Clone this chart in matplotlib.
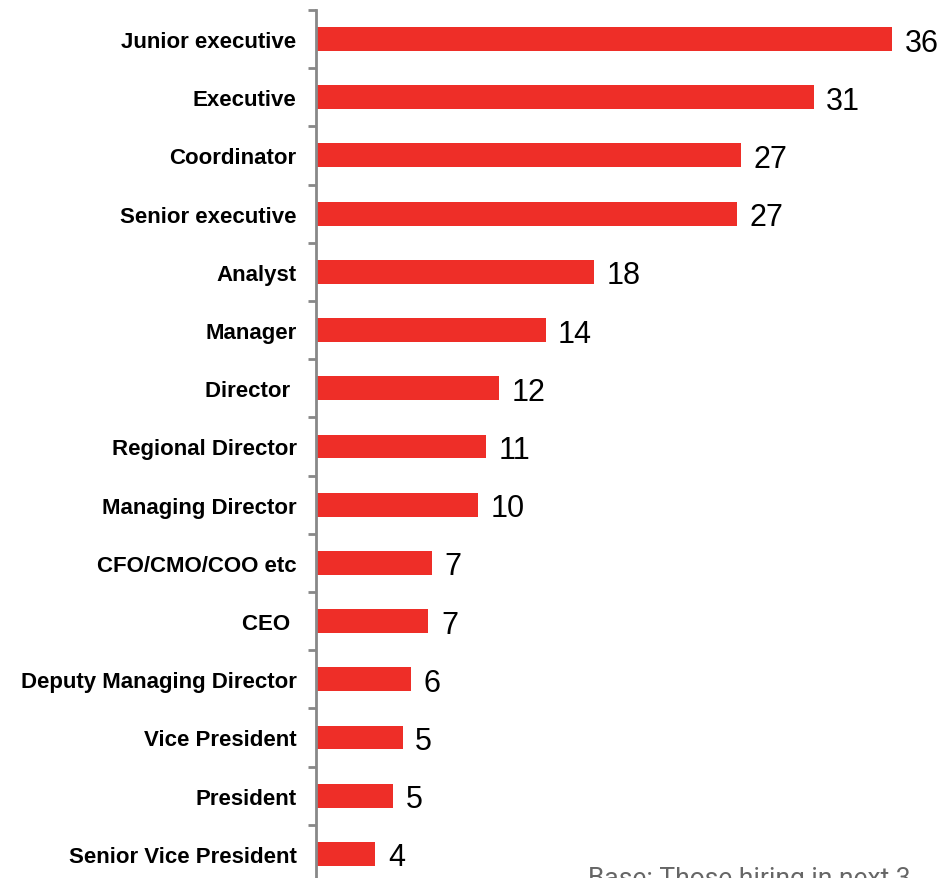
import matplotlib.pyplot as plt
import numpy as np

roles = ["Junior executive", "Executive", "Coordinator", "Senior executive",
         "Analyst", "Manager", "Director ", "Regional Director",
         "Managing Director", "CFO/CMO/COO etc", "CEO ", "Deputy Managing Director",
         "Vice President", "President", "Senior Vice President"]
# bar lengths as drawn, and the rounded figures printed next to them
values = [35.9, 31.0, 26.5, 26.2, 17.3, 14.3, 11.4, 10.6, 10.1, 7.2, 7.0, 5.9, 5.4, 4.8, 3.7]
shown = ["36", "31", "27", "27", "18", "14", "12", "11", "10", "7", "7", "6", "5", "5", "4"]

plt.rcParams["font.family"] = ["Liberation Sans", "DejaVu Sans"]

fig = plt.figure(figsize=(9.42, 8.79), dpi=100)
ax = fig.add_axes([0.3355, -0.0057, 0.6645, 0.9933])

y = np.arange(len(roles))
ax.barh(y, values, height=0.41, color="#ee2e28")
ax.set_ylim(len(roles) - 0.5, -0.5)
ax.set_xlim(0, 39)

for yi, v, s in zip(y, values, shown):
    ax.annotate(s, (v, yi), xytext=(9, 0), textcoords="offset points",
                va="center_baseline", ha="left", fontsize=22, color="black")

ax.set_yticks(y)
ax.set_yticklabels(roles, fontsize=16, fontweight="bold")
ax.tick_params(axis="y", which="major", length=0, pad=14)
ax.set_yticks(np.arange(len(roles) + 1) - 0.5, minor=True)
ax.tick_params(axis="y", which="minor", length=6, width=2, color="#888888")
ax.set_xticks([])

for side in ["top", "right", "bottom"]:
    ax.spines[side].set_visible(False)
ax.spines["left"].set_color("#888888")
ax.spines["left"].set_linewidth(2)

# footnote runs off the bottom of the picture, as in the source
fig.text(0.624, -0.040, "Base: Those hiring in next 3\nmonths", fontsize=19,
         color="#666666", family=["Roboto", "DejaVu Sans"], va="baseline")

fig.savefig("out.png", dpi=100)
